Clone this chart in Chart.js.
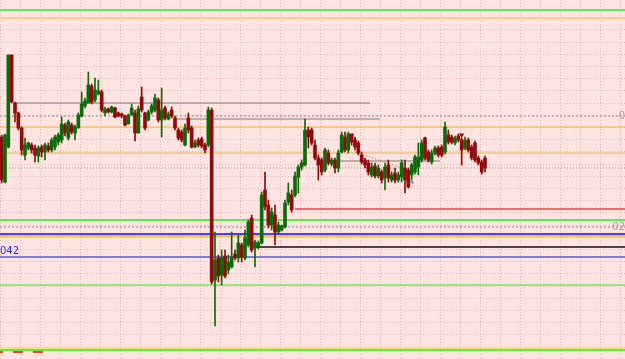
<!DOCTYPE html>
<html>
<head>
<meta charset="utf-8">
<script src="https://cdn.jsdelivr.net/npm/chart.js@4.4.1/dist/chart.umd.min.js"></script>
<style>
  html, body { margin: 0; padding: 0; background: #ffe4e1; }
  #wrap { width: 625px; height: 359px; }
</style>
</head>
<body>
<div id="wrap"><canvas id="myChart"></canvas></div>
<script>
// candle prices, one entry per bar (left to right)
var open = [
  1.2162,1.2117,1.2152,1.2244,1.2196,1.2186,1.2171,1.2144,1.2151,1.2154,
  1.2151,1.2143,1.2152,1.2147,1.2153,1.2149,1.2152,1.2157,1.2159,1.2174,
  1.2161,1.2174,1.2166,1.2171,1.2183,1.2193,1.2196,1.2213,1.2199,1.2205,
  1.2207,1.2186,1.2190,1.2187,1.2191,1.2186,1.2185,1.2183,1.2175,1.2184,
  1.2186,1.2166,1.2202,1.2186,1.2179,1.2187,1.2189,1.2199,1.2179,1.2191,
  1.2180,1.2189,1.2181,1.2169,1.2167,1.2154,1.2181,1.2171,1.2152,1.2159,
  1.2160,1.2154,1.2154,1.2189,1.2019,1.2041,1.2024,1.2043,1.2029,1.2032,
  1.2045,1.2041,1.2054,1.2041,1.2054,1.2081,1.2051,1.2052,1.2056,1.2109,
  1.2094,1.2074,1.2084,1.2067,1.2069,1.2072,1.2097,1.2104,1.2104,1.2122,
  1.2132,1.2134,1.2169,1.2169,1.2154,1.2141,1.2139,1.2129,1.2146,1.2135,
  1.2139,1.2131,1.2147,1.2162,1.2149,1.2164,1.2159,1.2156,1.2144,1.2139,
  1.2136,1.2124,1.2133,1.2123,1.2127,1.2121,1.2134,1.2119,1.2126,1.2119,
  1.2122,1.2131,1.2129,1.2124,1.2127,1.2132,1.2139,1.2161,1.2147,1.2137,
  1.2146,1.2151,1.2152,1.2147,1.2164,1.2162,1.2156,1.2163,1.2159,1.2151,
  1.2159,1.2152,1.2156,1.2141,1.2137,1.2141
];
var high = [
  1.2164,1.2165,1.2244,1.2244,1.2197,1.2187,1.2172,1.2161,1.2157,1.2156,
  1.2154,1.2153,1.2154,1.2156,1.2156,1.2161,1.2164,1.2166,1.2182,1.2176,
  1.2179,1.2176,1.2174,1.2186,1.2207,1.2201,1.2227,1.2215,1.2221,1.2219,
  1.2209,1.2192,1.2191,1.2193,1.2192,1.2187,1.2186,1.2184,1.2185,1.2195,
  1.2189,1.2193,1.2212,1.2187,1.2189,1.2195,1.2205,1.2201,1.2211,1.2193,
  1.2187,1.2192,1.2183,1.2171,1.2169,1.2175,1.2186,1.2173,1.2159,1.2161,
  1.2162,1.2156,1.2192,1.2191,1.2067,1.2044,1.2049,1.2049,1.2044,1.2067,
  1.2049,1.2064,1.2056,1.2069,1.2079,1.2084,1.2059,1.2058,1.2107,1.2127,
  1.2099,1.2091,1.2094,1.2077,1.2074,1.2099,1.2116,1.2109,1.2127,1.2134,
  1.2139,1.2180,1.2172,1.2171,1.2159,1.2144,1.2141,1.2151,1.2149,1.2141,
  1.2141,1.2149,1.2167,1.2167,1.2167,1.2164,1.2162,1.2158,1.2147,1.2141,
  1.2139,1.2136,1.2136,1.2134,1.2129,1.2136,1.2139,1.2127,1.2131,1.2127,
  1.2139,1.2139,1.2131,1.2136,1.2144,1.2156,1.2159,1.2162,1.2149,1.2149,
  1.2153,1.2153,1.2154,1.2177,1.2169,1.2164,1.2163,1.2165,1.2161,1.2162,
  1.2161,1.2154,1.2158,1.2143,1.2139,1.2143
];
var low = [
  1.2116,1.2116,1.2151,1.2196,1.2177,1.2169,1.2144,1.2139,1.2149,1.2146,
  1.2137,1.2137,1.2142,1.2139,1.2147,1.2147,1.2149,1.2154,1.2156,1.2163,
  1.2159,1.2165,1.2159,1.2171,1.2182,1.2191,1.2196,1.2195,1.2197,1.2204,
  1.2187,1.2183,1.2186,1.2186,1.2181,1.2182,1.2181,1.2173,1.2175,1.2184,
  1.2158,1.2166,1.2187,1.2169,1.2178,1.2185,1.2187,1.2177,1.2162,1.2179,
  1.2179,1.2181,1.2169,1.2159,1.2157,1.2153,1.2166,1.2151,1.2151,1.2152,
  1.2151,1.2146,1.2152,1.2015,1.1973,1.2017,1.2014,1.2021,1.2025,1.2031,
  1.2039,1.2037,1.2037,1.2039,1.2052,1.2047,1.2032,1.2050,1.2055,1.2089,
  1.2071,1.2069,1.2054,1.2066,1.2068,1.2071,1.2094,1.2087,1.2102,1.2106,
  1.2129,1.2133,1.2151,1.2154,1.2139,1.2119,1.2124,1.2127,1.2134,1.2133,
  1.2126,1.2127,1.2146,1.2147,1.2146,1.2154,1.2149,1.2144,1.2135,1.2131,
  1.2124,1.2122,1.2121,1.2121,1.2116,1.2109,1.2117,1.2117,1.2116,1.2117,
  1.2117,1.2106,1.2111,1.2119,1.2125,1.2124,1.2137,1.2139,1.2137,1.2135,
  1.2144,1.2142,1.2142,1.2145,1.2155,1.2155,1.2154,1.2157,1.2134,1.2149,
  1.2147,1.2139,1.2137,1.2134,1.2125,1.2127
];
var close = [
  1.2119,1.2164,1.2244,1.2197,1.2186,1.2171,1.2149,1.2154,1.2156,1.2149,
  1.2144,1.2151,1.2147,1.2154,1.2149,1.2159,1.2162,1.2164,1.2175,1.2166,
  1.2177,1.2167,1.2172,1.2184,1.2195,1.2198,1.2214,1.2197,1.2209,1.2208,
  1.2189,1.2190,1.2187,1.2192,1.2182,1.2183,1.2183,1.2174,1.2184,1.2191,
  1.2166,1.2190,1.2189,1.2171,1.2187,1.2193,1.2201,1.2179,1.2189,1.2181,
  1.2185,1.2183,1.2171,1.2161,1.2159,1.2171,1.2169,1.2152,1.2156,1.2154,
  1.2153,1.2149,1.2189,1.2017,1.2039,1.2023,1.2041,1.2023,1.2037,1.2042,
  1.2041,1.2056,1.2042,1.2061,1.2077,1.2049,1.2057,1.2056,1.2104,1.2092,
  1.2074,1.2087,1.2067,1.2074,1.2073,1.2096,1.2106,1.2089,1.2123,1.2132,
  1.2136,1.2169,1.2162,1.2156,1.2141,1.2134,1.2127,1.2149,1.2136,1.2139,
  1.2131,1.2146,1.2164,1.2149,1.2165,1.2157,1.2152,1.2146,1.2137,1.2134,
  1.2127,1.2132,1.2123,1.2131,1.2119,1.2132,1.2121,1.2124,1.2119,1.2124,
  1.2136,1.2119,1.2112,1.2134,1.2142,1.2142,1.2156,1.2141,1.2139,1.2146,
  1.2151,1.2144,1.2144,1.2172,1.2157,1.2157,1.2161,1.2159,1.2149,1.2159,
  1.2149,1.2141,1.2139,1.2136,1.2127,1.2131
];

// horizontal levels: price, first bar, last bar (null = whole width)
var levelPrice = [1.2289, 1.2281, 1.2196, 1.2183, 1.2180, 1.2172, 1.2146, 1.2131, 1.2138, 1.2090,
                  1.2079, 1.2072, 1.2065, 1.2063, 1.2052, 1.2042, 1.2014, 1.1951, 1.1949];
var levelFrom  = [null, null, 4, null, 52, null, null, null, 101.5, 88,
                  null, null, null, null, 76, null, null, null, null];
var levelTo    = [null, null, 110.5, null, 113.5, null, null, null, 131.5, null,
                  null, null, null, null, null, null, null, null, null];
var levelColor = ['#1ff01f', '#ffc98a', '#7a7a7a', '#c8b2b2', '#7a7a7a', '#f5b347', '#f5b347', '#a08888', '#7a7a7a', '#f06a6a',
                  '#1ff01f', '#c8b2b2', '#0a0aff', '#ffb300', '#111111', '#7d7de8', '#1ff01f', '#ffe23a', '#1ff01f'];
var levelWidth = [1.5, 2, 1, 2, 1, 1, 1, 1, 1, 2, 1.5, 2, 1.5, 1.5, 1.5, 2, 1, 1.5, 1.5];
var levelDash  = [[], [], [], [2, 2], [], [], [], [1, 2], [], [], [], [2, 2], [], [], [], [], [], [], []];

// short red marks along the bottom edge
var markStripFrom = [-0.5, 3.4, 9.4];
var markStripTo = [0.4, 6.4, 12.4];
var markStripPrice = 1.1947;

// dotted trend line between two bars
var trendBars = [106, 122];
var trendPrices = [1.2147, 1.2129];

// arrow marks
var markBars = [105, 138, 123];
var markPrices = [1.2164, 1.2164, 1.2117];
var markDown = [true, true, false];

// price labels
var labelText = ['042', '0', '02'];
var labelPrice = [1.2042, 1.2183, 1.2072];
var labelSide = ['left', 'right', 'right'];

var X_MIN = -0.5, X_MAX = 187;
var Y_MIN = 1.1940, Y_MAX = 1.2299;
var GRID_TOP = 1.2269, GRID_STEP = 0.00122;

var bars = open.map(function (o, i) { return i; });
var bodyColors = bars.map(function (i) { return close[i] >= open[i] ? '#0b6b0b' : '#8e0c0c'; });

var datasets = [];

datasets.push({
    type: 'line',
    data: markBars.map(function (b, i) { return { x: b, y: markPrices[i] }; }),
    showLine: false,
    pointStyle: 'triangle',
    pointRadius: 3,
    pointRotation: markDown.map(function (d) { return d ? 180 : 0; }),
    pointBackgroundColor: markDown.map(function (d) { return d ? '#8e0c0c' : '#909090'; }),
    pointBorderWidth: 0,
    order: -1
});

datasets.push({
    type: 'bar',
    data: bars.map(function (b, i) { return { x: b, y: [open[i], close[i]] }; }),
    backgroundColor: bodyColors,
    barThickness: 3,
    minBarLength: 1,
    grouped: false,
    order: 0
});

datasets.push({
    type: 'bar',
    data: bars.map(function (b, i) { return { x: b, y: [low[i], high[i]] }; }),
    backgroundColor: bodyColors,
    barThickness: 1,
    grouped: false,
    order: 1
});

datasets.push({
    type: 'line',
    data: trendBars.map(function (b, i) { return { x: b, y: trendPrices[i] }; }),
    borderColor: '#b07070',
    borderWidth: 1,
    borderDash: [1, 2],
    pointRadius: 0,
    order: 2
});

levelPrice.forEach(function (p, i) {
    datasets.push({
        type: 'line',
        data: [
            { x: levelFrom[i] === null ? X_MIN : levelFrom[i], y: p },
            { x: levelTo[i] === null ? X_MAX : levelTo[i], y: p }
        ],
        borderColor: levelColor[i],
        borderWidth: levelWidth[i],
        borderDash: levelDash[i],
        pointRadius: 0,
        order: 3
    });
});

markStripFrom.forEach(function (f, i) {
    datasets.push({
        type: 'line',
        data: [{ x: f, y: markStripPrice }, { x: markStripTo[i], y: markStripPrice }],
        borderColor: '#f04040',
        borderWidth: 2,
        pointRadius: 0,
        order: 2
    });
});

// paints the background and writes the price labels
var chartDecor = {
    id: 'chartDecor',
    beforeDraw: function (chart) {
        var c = chart.ctx;
        c.save();
        c.fillStyle = '#ffe4e1';
        c.fillRect(0, 0, chart.width, chart.height);
        c.restore();
    },
    afterDatasetsDraw: function (chart) {
        var c = chart.ctx, y = chart.scales.y, area = chart.chartArea;
        c.save();
        c.font = '10px "DejaVu Sans"';
        c.textBaseline = 'bottom';
        labelText.forEach(function (t, i) {
            var py = y.getPixelForValue(labelPrice[i]);
            if (labelSide[i] === 'left') {
                c.fillStyle = '#2b2bd6';
                c.textAlign = 'left';
                c.fillText(t, area.left, py - 1);
            } else {
                c.fillStyle = '#a8a0a0';
                c.textAlign = 'right';
                c.textBaseline = 'middle';
                c.fillText(t, area.right, py);
                c.textBaseline = 'bottom';
            }
        });
        c.restore();
    }
};

var ctx = document.getElementById('myChart').getContext('2d');
var myChart = new Chart(ctx, {
    type: 'bar',
    data: { datasets: datasets },
    plugins: [chartDecor],
    options: {
        responsive: true,
        maintainAspectRatio: false,
        animation: false,
        layout: { padding: 0, autoPadding: false },
        plugins: { legend: { display: false }, tooltip: { enabled: false } },
        scales: {
            x: {
                type: 'linear',
                min: X_MIN,
                max: X_MAX,
                offset: false,
                afterBuildTicks: function (scale) {
                    var t = [];
                    for (var v = X_MIN; v <= X_MAX; v += 6) t.push({ value: v });
                    scale.ticks = t;
                },
                ticks: { display: false },
                border: { display: false, dash: [1, 2] },
                grid: { color: '#ebb5b5', drawTicks: false, offset: false, lineWidth: 1 }
            },
            y: {
                min: Y_MIN,
                max: Y_MAX,
                afterBuildTicks: function (scale) {
                    var t = [];
                    for (var v = GRID_TOP; v > Y_MIN; v -= GRID_STEP) t.push({ value: v });
                    scale.ticks = t;
                },
                ticks: { display: false },
                border: { display: false, dash: [1, 2] },
                grid: { color: '#ebb5b5', drawTicks: false, lineWidth: 1 }
            }
        }
    }
});
</script>
</body>
</html>
